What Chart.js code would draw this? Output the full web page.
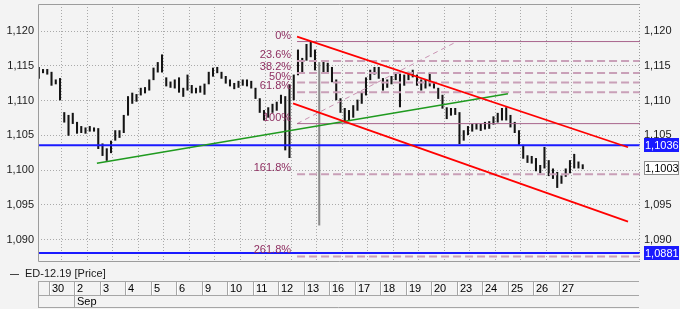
<!DOCTYPE html>
<html>
<head>
<meta charset="utf-8">
<script src="https://cdn.jsdelivr.net/npm/chart.js@4.4.1/dist/chart.umd.min.js"></script>
<style>
  html, body { margin: 0; padding: 0; background: #f3f3f3; }
  canvas { display: block; }
</style>
</head>
<body>
<canvas id="chart" width="680" height="309"></canvas>
<script>
// ED-12.19 price chart, intraday bars (6 per day)

const dayLabels = ['30', '2', '3', '4', '5', '6', '9', '10', '11', '12', '13', '16', '17', '18', '19', '20', '23', '24', '25', '26', '27'];
const monthLabel = 'Sep';
const monthStartDay = 1;
const barsPerDay = 6;
const firstBarX = -0.4;

const highs = [
  1.1148, 1.1145, 1.1145, 1.1141, 1.1130, 1.1132, 1.1083, 1.1079, 1.1082, 1.1069,
  1.1063, 1.1061, 1.1063, 1.1061, 1.1060, 1.1038, 1.1031, 1.1042, 1.1057, 1.1057,
  1.1079, 1.1106, 1.1111, 1.1109, 1.1118, 1.1119, 1.1130, 1.1147, 1.1155, 1.1166,
  1.1133, 1.1127, 1.1130, 1.1133, 1.1118, 1.1137, 1.1122, 1.1118, 1.1121, 1.1124,
  1.1141, 1.1147, 1.1148, 1.1141, 1.1135, 1.1130, 1.1125, 1.1128, 1.1130, 1.1130,
  1.1128, 1.1118, 1.1103, 1.1086, 1.1090, 1.1095, 1.1098, 1.1108, 1.1106, 1.1123,
  1.1137, 1.1173, 1.1161, 1.1181, 1.1184, 1.1173, 1.1155, 1.1156, 1.1154, 1.1148,
  1.1130, 1.1103, 1.1089, 1.1086, 1.1093, 1.1101, 1.1112, 1.1133, 1.1144, 1.1148,
  1.1148, 1.1132, 1.1130, 1.1135, 1.1140, 1.1140, 1.1137, 1.1141, 1.1144, 1.1137,
  1.1130, 1.1130, 1.1140, 1.1125, 1.1118, 1.1108, 1.1090, 1.1089, 1.1089, 1.1083,
  1.1057, 1.1063, 1.1066, 1.1067, 1.1066, 1.1069, 1.1070, 1.1077, 1.1082, 1.1089,
  1.1090, 1.1079, 1.1069, 1.1057, 1.1036, 1.1021, 1.1020, 1.1017, 1.1007, 1.1033,
  1.1014, 1.1002, 1.0997, 1.0992, 1.1002, 1.1014, 1.1023, 1.1012, 1.1008
];
const lows = [
  1.1132, 1.1140, 1.1138, 1.1122, 1.1124, 1.1101, 1.1069, 1.1050, 1.1067, 1.1053,
  1.1054, 1.1053, 1.1056, 1.1056, 1.1031, 1.1021, 1.1014, 1.1025, 1.1043, 1.1047,
  1.1054, 1.1079, 1.1096, 1.1099, 1.1108, 1.1111, 1.1115, 1.1130, 1.1141, 1.1141,
  1.1121, 1.1119, 1.1118, 1.1112, 1.1106, 1.1115, 1.1111, 1.1111, 1.1112, 1.1109,
  1.1124, 1.1135, 1.1140, 1.1132, 1.1125, 1.1121, 1.1117, 1.1119, 1.1122, 1.1121,
  1.1118, 1.1103, 1.1083, 1.1072, 1.1076, 1.1083, 1.1086, 1.1096, 1.1029, 1.1018,
  1.1101, 1.1137, 1.1141, 1.1158, 1.1163, 1.1144, 1.0921, 1.1141, 1.1141, 1.1127,
  1.1101, 1.1083, 1.1069, 1.1072, 1.1076, 1.1086, 1.1096, 1.1108, 1.1130, 1.1138,
  1.1132, 1.1115, 1.1119, 1.1124, 1.1130, 1.1091, 1.1122, 1.1130, 1.1134, 1.1122,
  1.1115, 1.1118, 1.1121, 1.1118, 1.1103, 1.1089, 1.1074, 1.1079, 1.1080, 1.1038,
  1.1043, 1.1051, 1.1056, 1.1059, 1.1057, 1.1059, 1.1060, 1.1066, 1.1069, 1.1072,
  1.1072, 1.1062, 1.1054, 1.1036, 1.1017, 1.1011, 1.1010, 1.0999, 1.0996, 1.1003,
  1.0992, 1.0988, 1.0975, 1.0981, 1.0991, 1.0996, 1.1003, 1.1003, 1.1002
];

const yTicks = [1.090, 1.095, 1.100, 1.105, 1.110, 1.115, 1.120];
const yMin = 1.0868, yMax = 1.1239;
const xMin = -0.43, xMax = 23.18;

// support / resistance levels (blue)
const blueLevels = [1.1036, 1.0881];
const lastPrice = 1.1003;

// fibonacci retracement anchors
const fibHigh = 1.1185, fibLow = 1.1067;
const fibStartX = 9.73;
const fibPercents = [0, 23.6, 38.2, 50, 61.8, 100, 161.8, 261.8];
const fibDiagonal = [[9.73, 1.1067], [16.0, 1.1185]];

// trend lines [x, price]
const channelTop = [[9.73, 1.1192], [22.71, 1.1033]];
const channelBottom = [[9.57, 1.1096], [22.71, 1.0926]];
const greenTrend = [[1.88, 1.1010], [18.0, 1.1110]];

const fmt = (v, d) => v.toFixed(d).replace('.', ',');
const pts = arr => arr.map(p => ({ x: p[0], y: p[1] }));
const seg = (color, width, dash) => ({
  type: 'line', borderColor: color, borderWidth: width, borderDash: dash || [],
  pointRadius: 0, fill: false, tension: 0
});

const fibPrice = p => fibHigh - p / 100 * (fibHigh - fibLow);

const datasets = [];
datasets.push(Object.assign(seg('#ff0000', 1.8), { data: pts(channelTop) }));
datasets.push(Object.assign(seg('#ff0000', 1.8), { data: pts(channelBottom) }));
datasets.push(Object.assign(seg('#1f9a1f', 1.6), { data: pts(greenTrend) }));
blueLevels.forEach(v => {
  datasets.push(Object.assign(seg('#1a1aff', 2), { data: [{ x: xMin, y: v }, { x: xMax, y: v }] }));
});
fibPercents.forEach(p => {
  const solid = p === 0 || p === 100;
  datasets.push(Object.assign(
    solid ? seg('#a8648c', 1) : seg('#c9a0b8', 2, [8, 4]),
    { data: [{ x: fibStartX, y: fibPrice(p) }, { x: xMax, y: fibPrice(p) }] }
  ));
});
datasets.push(Object.assign(seg('#c892b2', 1, [5, 4]), { data: pts(fibDiagonal) }));
datasets.push({
  type: 'bar',
  label: 'ED-12.19 [Price]',
  data: highs.map((h, k) => ({ x: firstBarX + k / barsPerDay, y: [lows[k], h] })),
  // the one bad tick on the 13th is drawn grey, as in the terminal
  backgroundColor: highs.map((h, k) => (h - lows[k] > 0.015 ? '#8a8a8a' : '#141414')),
  barThickness: 1.4,
  borderWidth: 0
});

// extra drawing: frame, fib labels, price boxes, legend and date table
const decorations = {
  id: 'decorations',
  afterDraw(chart) {
    const ctx = chart.ctx;
    const a = chart.chartArea;
    const xs = chart.scales.x;
    const ys = chart.scales.y;
    ctx.save();

    // frame
    ctx.strokeStyle = '#9c9c9c';
    ctx.lineWidth = 1;
    ctx.beginPath();
    ctx.moveTo(a.right, a.top + 0.5);
    ctx.lineTo(a.left + 0.5, a.top + 0.5);
    ctx.lineTo(a.left + 0.5, a.bottom - 0.5);
    ctx.lineTo(a.right, a.bottom - 0.5);
    ctx.stroke();
    ctx.setLineDash([1, 2]);
    ctx.beginPath();
    ctx.moveTo(a.right - 0.5, a.top);
    ctx.lineTo(a.right - 0.5, a.bottom);
    ctx.stroke();
    ctx.setLineDash([]);

    // fib labels
    ctx.font = '11px Arial, "Liberation Sans", sans-serif';
    ctx.fillStyle = '#8f3062';
    ctx.textAlign = 'right';
    ctx.textBaseline = 'alphabetic';
    const fx = xs.getPixelForValue(fibStartX) - 6;
    fibPercents.forEach(p => {
      ctx.fillText(String(p).replace(/\.0$/, '') + '%', fx, ys.getPixelForValue(fibPrice(p)) - 3);
    });

    // price boxes on the right axis
    ctx.textAlign = 'left';
    ctx.textBaseline = 'middle';
    const box = (v, bg, fg, border) => {
      const y = Math.round(ys.getPixelForValue(v));
      ctx.fillStyle = bg;
      ctx.fillRect(a.right + 4, y - 7, 35, 14);
      if (border) {
        ctx.strokeStyle = border;
        ctx.strokeRect(a.right + 4.5, y - 6.5, 34, 13);
      }
      ctx.fillStyle = fg;
      ctx.fillText(fmt(v, 4), a.right + 5, y + 0.5);
    };
    box(blueLevels[0], '#1a1aff', '#ffffff');
    box(lastPrice, '#ffffff', '#000000', '#8c8c8c');
    box(blueLevels[1], '#1a1aff', '#ffffff');

    // legend
    ctx.strokeStyle = '#444';
    ctx.beginPath();
    ctx.moveTo(10, 274.5);
    ctx.lineTo(19, 274.5);
    ctx.stroke();
    ctx.fillStyle = '#1a1a1a';
    ctx.fillText('ED-12.19 [Price]', 25, 274);

    // date table
    const top = 281.5, mid = 295.5, bot = 307.5;
    const right = a.right - 1;
    ctx.strokeStyle = '#a6a6a6';
    ctx.beginPath();
    [top, mid, bot].forEach(y => { ctx.moveTo(a.left, y); ctx.lineTo(right, y); });
    ctx.moveTo(a.left + 0.5, top); ctx.lineTo(a.left + 0.5, bot);
    dayLabels.forEach((d, i) => {
      const x = Math.round(xs.getPixelForValue(i)) + 0.5;
      ctx.moveTo(x, top); ctx.lineTo(x, i === monthStartDay ? bot : mid);
    });
    ctx.stroke();
    ctx.strokeStyle = '#ffffff';
    ctx.beginPath();
    dayLabels.forEach((d, i) => {
      const x = Math.round(xs.getPixelForValue(i)) + 1.5;
      ctx.moveTo(x, top + 1); ctx.lineTo(x, mid - 1);
    });
    ctx.stroke();
    ctx.fillStyle = '#000';
    dayLabels.forEach((d, i) => {
      ctx.fillText(d, Math.round(xs.getPixelForValue(i)) + 3, 289);
    });
    ctx.fillText(monthLabel, Math.round(xs.getPixelForValue(monthStartDay)) + 3, 302);

    ctx.restore();
  }
};

const tickFont = { family: 'Arial, "Liberation Sans", sans-serif', size: 11 };
const yAxis = (position, width, showGrid) => ({
  position: position,
  min: yMin,
  max: yMax,
  afterBuildTicks: s => { s.ticks = yTicks.map(v => ({ value: v })); },
  ticks: { callback: v => fmt(v, 3), font: tickFont, color: '#1a1a1a', padding: 4 },
  grid: { display: showGrid, color: '#a9a9a9', lineWidth: 1, drawTicks: false },
  border: { display: false, dash: [1, 2] },
  afterFit: s => { s.width = width; s.paddingTop = 0; s.paddingBottom = 0; }
});

new Chart(document.getElementById('chart'), {
  type: 'bar',
  data: { datasets: datasets },
  options: {
    responsive: false,
    animation: false,
    layout: { padding: { top: 4, bottom: 47, left: 0, right: 0 } },
    plugins: { legend: { display: false }, tooltip: { enabled: false } },
    scales: {
      x: {
        type: 'linear',
        min: xMin,
        max: xMax,
        offset: false,
        afterBuildTicks: s => { s.ticks = dayLabels.map((d, i) => ({ value: i })); },
        ticks: { display: false },
        grid: { color: '#a9a9a9', lineWidth: 1, drawTicks: false },
        border: { display: false, dash: [1, 2] },
        afterFit: s => { s.height = 0; s.paddingLeft = 0; s.paddingRight = 0; }
      },
      y: yAxis('left', 38, true),
      y2: yAxis('right', 40, false)
    }
  },
  plugins: [decorations]
});
</script>
</body>
</html>
